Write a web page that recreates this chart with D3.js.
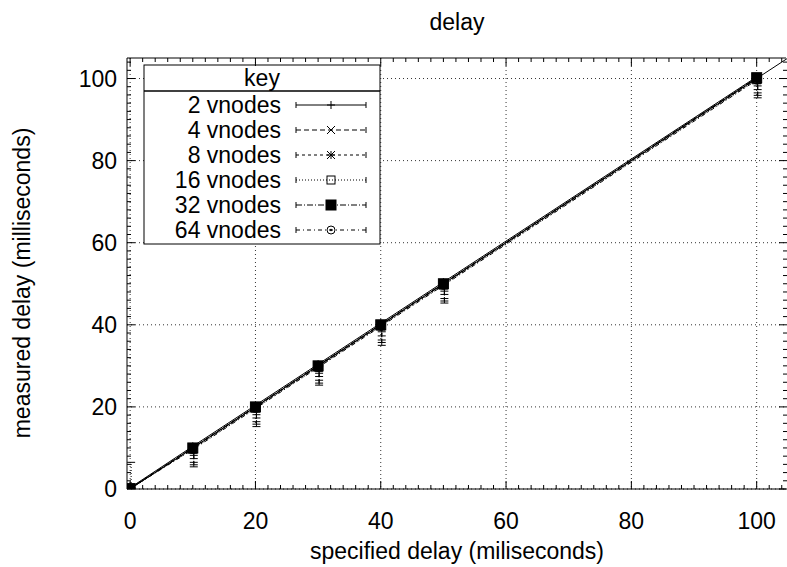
<!DOCTYPE html>
<html><head><meta charset="utf-8">
<script src="https://cdn.jsdelivr.net/npm/d3@7"></script>
<style>body{margin:0;background:#fff}svg{display:block}text{font-family:"Liberation Sans",Arial,sans-serif;fill:#000}</style>
</head><body><svg id="c" width="787" height="567"></svg>
<script>
const title = "delay";
const xLabel = "specified delay (miliseconds)";
const yLabel = "measured delay (milliseconds)";
const keyTitle = "key";
const xTicks = [0, 20, 40, 60, 80, 100];
const yTicks = [0, 20, 40, 60, 80, 100];
const specified = [0, 10, 20, 30, 40, 50, 100];
const seriesNames = ["2 vnodes", "4 vnodes", "8 vnodes", "16 vnodes", "32 vnodes", "64 vnodes"];
const mean2  = [0.3, 10.4, 20.4, 30.4, 40.4, 50.4, 100.4];
const mean4  = [0.2, 10.1, 20.1, 30.1, 40.1, 50.1, 100.1];
const mean8  = [0.1, 9.9, 19.9, 29.9, 39.9, 49.9, 99.9];
const mean16 = [0.1, 9.7, 19.7, 29.7, 39.7, 49.7, 99.7];
const mean32 = [0.1, 10.0, 20.0, 30.0, 40.0, 50.0, 100.2];
const mean64 = [0.1, 9.6, 19.6, 29.6, 39.6, 49.6, 99.6];
const low2  = [0, 8.2, 18.1, 28.2, 38.3, 48.2, 98.2];
const low4  = [0, 5.4, 15.2, 25.3, 35.0, 45.3, 95.3];
const low8  = [0, 7.4, 17.3, 27.4, 37.3, 47.4, 97.3];
const low16 = [0, 6.5, 16.4, 26.5, 36.3, 46.4, 96.5];
const low32 = [0, 8.8, 18.8, 28.7, 38.8, 48.8, 98.8];
const low64 = [0, 5.9, 15.8, 25.8, 35.7, 45.8, 95.9];
const high2  = [0.5, 10.7, 20.7, 30.7, 40.7, 50.7, 100.7];
const high4  = [0.4, 10.4, 20.4, 30.4, 40.4, 50.4, 100.4];
const high8  = [0.3, 10.2, 20.2, 30.2, 40.2, 50.2, 100.2];
const high16 = [6.5, 10.0, 20.0, 30.0, 40.0, 50.0, 100.0];
const high32 = [0.3, 10.3, 20.3, 30.3, 40.3, 50.3, 100.5];
const high64 = [0.3, 9.9, 19.9, 29.9, 39.9, 49.9, 99.9];
const idealX = [0, 105];
const idealY = [0, 105];

const means = [mean2, mean4, mean8, mean16, mean32, mean64];
const lows = [low2, low4, low8, low16, low32, low64];
const highs = [high2, high4, high8, high16, high32, high64];
const dashes = [null, "5,3", "3,3", "1,2", "6,2,1,2", "4,3,1,3"];
const marks = ["plus", "cross", "star", "square", "fsquare", "circle"];

const svg = d3.select("#c");
const L = 127, R = 787, T = 58, B = 489;
const x = d3.scaleLinear().domain([-0.5, 105]).range([L, 788]);
const y = d3.scaleLinear().domain([0, 105]).range([B, T]);

svg.append("defs").append("clipPath").attr("id", "clip")
  .append("rect").attr("x", L).attr("y", T).attr("width", R - L).attr("height", B - T);

// grid
const g = svg.append("g").attr("stroke", "#333").attr("stroke-width", 1).attr("stroke-dasharray", "1,3").attr("fill", "none");
xTicks.forEach(v => g.append("line").attr("x1", x(v)).attr("x2", x(v)).attr("y1", T).attr("y2", B));
yTicks.forEach(v => g.append("line").attr("x1", L).attr("x2", R).attr("y1", y(v)).attr("y2", y(v)));

function marker(sel, type, cx, cy) {
  const s = 4;
  const p = sel.append("g").attr("stroke", "#000").attr("stroke-width", 1).attr("fill", "none");
  if (type === "plus" || type === "star") {
    p.append("line").attr("x1", cx - s).attr("x2", cx + s).attr("y1", cy).attr("y2", cy);
    p.append("line").attr("x1", cx).attr("x2", cx).attr("y1", cy - s).attr("y2", cy + s);
  }
  if (type === "cross" || type === "star") {
    p.append("line").attr("x1", cx - s).attr("x2", cx + s).attr("y1", cy - s).attr("y2", cy + s);
    p.append("line").attr("x1", cx - s).attr("x2", cx + s).attr("y1", cy + s).attr("y2", cy - s);
  }
  if (type === "square") p.append("rect").attr("x", cx - s).attr("y", cy - s).attr("width", 2 * s).attr("height", 2 * s);
  if (type === "fsquare") p.append("rect").attr("x", cx - s - 1).attr("y", cy - s - 1).attr("width", 2 * s + 2).attr("height", 2 * s + 2).attr("fill", "#000");
  if (type === "circle") {
    p.append("circle").attr("cx", cx).attr("cy", cy).attr("r", s);
    p.append("circle").attr("cx", cx).attr("cy", cy).attr("r", 0.8).attr("fill", "#000");
  }
}

// data
const dg = svg.append("g").attr("clip-path", "url(#clip)");
dg.append("path").datum(idealX.map((v, i) => [v, idealY[i]]))
  .attr("d", d3.line().x(d => x(d[0])).y(d => y(d[1])))
  .attr("stroke", "#000").attr("fill", "none").attr("stroke-width", 1);
means.forEach((m, si) => {
  const sg = dg.append("g");
  sg.append("path").datum(specified.map((v, i) => [v, m[i]]))
    .attr("d", d3.line().x(d => x(d[0])).y(d => y(d[1])))
    .attr("stroke", "#000").attr("fill", "none").attr("stroke-width", 1)
    .attr("stroke-dasharray", dashes[si]);
  specified.forEach((v, i) => {
    const cx = x(v) + 1, y1 = y(lows[si][i]), y2 = y(highs[si][i]);
    const eg = sg.append("g").attr("stroke", "#000").attr("stroke-width", 1);
    eg.append("line").attr("x1", cx).attr("x2", cx).attr("y1", y1).attr("y2", y2).attr("stroke-dasharray", dashes[si]);
    eg.append("line").attr("x1", cx - 4).attr("x2", cx + 4).attr("y1", y1).attr("y2", y1);
    eg.append("line").attr("x1", cx - 4).attr("x2", cx + 4).attr("y1", y2).attr("y2", y2);
  });
});
means.forEach((m, si) => {
  specified.forEach((v, i) => marker(dg, marks[si], x(v), y(m[i])));
});

// key
const kL = 144, kR = 380, kT = 65, kH = 91, kRow = 25;
const kg = svg.append("g");
kg.append("rect").attr("x", kL).attr("y", kT).attr("width", kR - kL).attr("height", kH - kT + kRow * seriesNames.length + 3)
  .attr("fill", "#fff").attr("stroke", "#000").attr("stroke-width", 1);
kg.append("line").attr("x1", kL).attr("x2", kR).attr("y1", kH).attr("y2", kH).attr("stroke", "#000").attr("stroke-width", 1.5);
kg.append("text").attr("x", 262).attr("y", 86).attr("text-anchor", "middle").attr("font-size", 23).text(keyTitle);
seriesNames.forEach((n, i) => {
  const cy = kH + 14 + i * kRow;
  kg.append("text").attr("x", 281).attr("y", cy + 8).attr("text-anchor", "end").attr("font-size", 23).text(n);
  const lg = kg.append("g").attr("stroke", "#000").attr("stroke-width", 1);
  lg.append("line").attr("x1", 296).attr("x2", 366).attr("y1", cy).attr("y2", cy).attr("stroke-dasharray", dashes[i]);
  lg.append("line").attr("x1", 296).attr("x2", 296).attr("y1", cy - 3).attr("y2", cy + 3);
  lg.append("line").attr("x1", 366).attr("x2", 366).attr("y1", cy - 3).attr("y2", cy + 3);
  marker(kg, marks[i], 331, cy);
});

// border and ticks
const bg = svg.append("g").attr("stroke", "#000").attr("stroke-width", 1).attr("fill", "none");
bg.append("path").attr("d", `M${L},${T}H${R - 1}M${L},${B}H${R - 1}M${L},${T}V${B}`);
const minorX = d3.range(0, 105, 2);
const minorY = d3.range(0, 106, 2);
minorX.forEach(v => {
  const len = xTicks.includes(v) ? 8 : 4;
  bg.append("line").attr("x1", x(v)).attr("x2", x(v)).attr("y1", B).attr("y2", B - len);
  bg.append("line").attr("x1", x(v)).attr("x2", x(v)).attr("y1", T).attr("y2", T + len);
});
minorY.forEach(v => {
  const len = yTicks.includes(v) ? 8 : 4;
  bg.append("line").attr("x1", L).attr("x2", L + len).attr("y1", y(v)).attr("y2", y(v));
  bg.append("line").attr("x1", R).attr("x2", R - len).attr("y1", y(v)).attr("y2", y(v));
});

// tick labels
xTicks.forEach(v => svg.append("text").attr("x", x(v)).attr("y", 529).attr("text-anchor", "middle").attr("font-size", 23).text(v));
yTicks.forEach(v => svg.append("text").attr("x", 117).attr("y", y(v) + 8).attr("text-anchor", "end").attr("font-size", 23).text(v));

svg.append("text").attr("x", 457).attr("y", 30).attr("text-anchor", "middle").attr("font-size", 23).text(title);
svg.append("text").attr("x", 457).attr("y", 559).attr("text-anchor", "middle").attr("font-size", 23).text(xLabel);
svg.append("text").attr("transform", "translate(30,283) rotate(-90)").attr("text-anchor", "middle").attr("font-size", 23).text(yLabel);
</script></body></html>
